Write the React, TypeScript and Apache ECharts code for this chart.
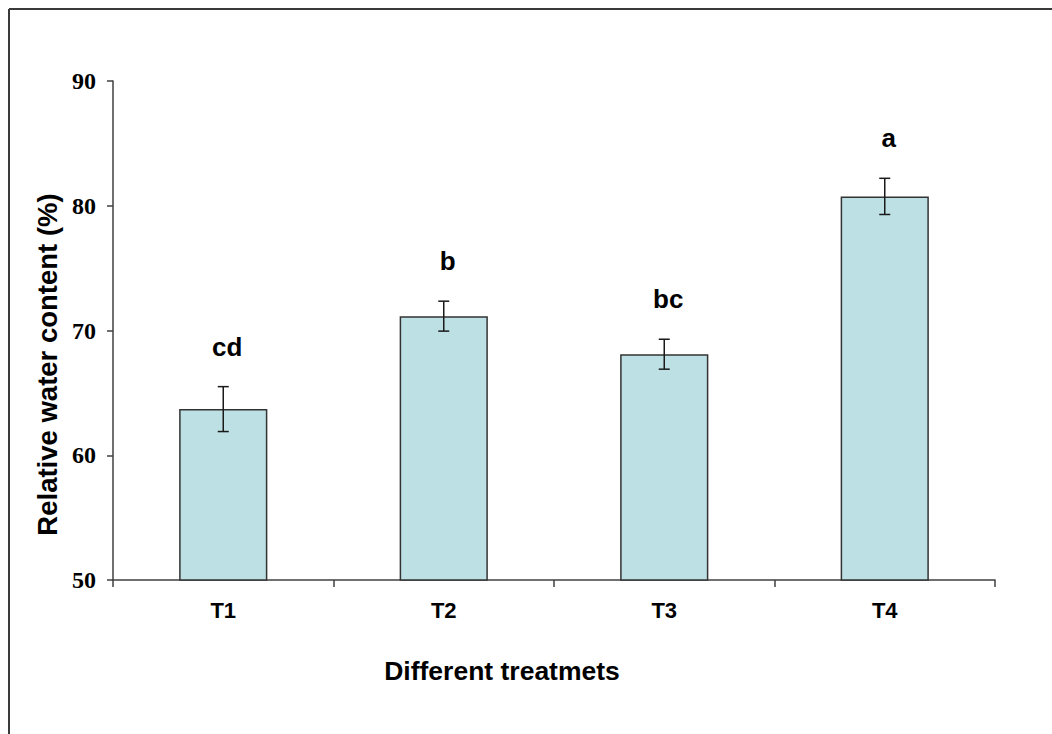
import React, { useEffect, useRef } from "react";
import * as echarts from "echarts";

const categories = ["T1", "T2", "T3", "T4"];
const means = [63.7, 71.15, 68.1, 80.75];
const errors = [1.8, 1.2, 1.2, 1.45];
const letters = ["cd", "b", "bc", "a"];
const yTicks = { min: 50, max: 90, interval: 10 };

export default function App() {
  const ref = useRef<HTMLDivElement>(null);
  useEffect(() => {
    if (!ref.current) return;
    const chart = echarts.init(ref.current, undefined, { renderer: "svg" });
    const errData = categories.map((c, i) => [i, means[i], errors[i]]);
    chart.setOption({
      animation: false,
      backgroundColor: "#ffffff",
      grid: { left: 113, right: 57, top: 81, bottom: 154 },
      graphic: [
        { type: "line", shape: { x1: 9, y1: 9, x2: 1052, y2: 9 }, style: { stroke: "#3a3a3a", lineWidth: 2 } },
        { type: "line", shape: { x1: 9, y1: 9, x2: 9, y2: 734 }, style: { stroke: "#3a3a3a", lineWidth: 2 } },
      ],
      xAxis: {
        type: "category",
        data: categories,
        name: "Different treatmets",
        nameLocation: "middle",
        nameGap: 77,
        nameTextStyle: {
          fontFamily: "Liberation Sans, Arial",
          fontWeight: "bold",
          fontSize: 26.5,
          color: "#000",
          padding: [0, 104, 0, 0],
        },
        axisLine: { lineStyle: { color: "#404040", width: 1.5 } },
        axisTick: { show: true, length: 7, lineStyle: { color: "#404040", width: 1.5 } },
        axisLabel: { margin: 19, fontFamily: "Liberation Sans, Arial", fontWeight: "bold", fontSize: 22, color: "#000" },
      },
      yAxis: {
        type: "value",
        min: yTicks.min,
        max: yTicks.max,
        interval: yTicks.interval,
        name: "Relative water content (%)",
        nameLocation: "middle",
        nameGap: 47,
        nameTextStyle: {
          fontFamily: "Liberation Sans, Arial",
          fontWeight: "bold",
          fontSize: 27.5,
          color: "#000",
          padding: [0, 68, 0, 0],
        },
        splitLine: { show: false },
        axisLine: { show: true, lineStyle: { color: "#404040", width: 1.5 } },
        axisTick: { show: true, length: 6, lineStyle: { color: "#404040", width: 1.5 } },
        axisLabel: { margin: 17, fontFamily: "Liberation Serif, Times New Roman", fontWeight: "bold", fontSize: 24, color: "#000" },
      },
      series: [
        {
          type: "bar",
          data: means,
          barWidth: "40%",
          itemStyle: { color: "#bce0e3", borderColor: "#333333", borderWidth: 1.5 },
        },
        {
          type: "custom",
          data: errData,
          z: 10,
          renderItem: (params: any, api: any) => {
            const idx = api.value(0);
            const m = api.value(1);
            const e = api.value(2);
            const top = api.coord([idx, m + e]);
            const bot = api.coord([idx, m - e]);
            const x = top[0];
            const hw = 5.5;
            const st = { stroke: "#1a1a1a", lineWidth: 1.5 };
            return {
              type: "group",
              children: [
                { type: "line", shape: { x1: x, y1: top[1], x2: x, y2: bot[1] }, style: st },
                { type: "line", shape: { x1: x - hw, y1: top[1], x2: x + hw, y2: top[1] }, style: st },
                { type: "line", shape: { x1: x - hw, y1: bot[1], x2: x + hw, y2: bot[1] }, style: st },
                {
                  type: "text",
                  style: {
                    text: letters[idx],
                    x: x + 4,
                    y: top[1] - 40,
                    textAlign: "center",
                    textVerticalAlign: "middle",
                    font: "bold 26px 'Liberation Sans', Arial",
                    fill: "#000",
                  },
                },
              ],
            };
          },
        },
      ],
    });
    return () => chart.dispose();
  }, []);
  return <div ref={ref} style={{ position: "fixed", left: 0, top: 0, width: 1052, height: 734 }} />;
}
